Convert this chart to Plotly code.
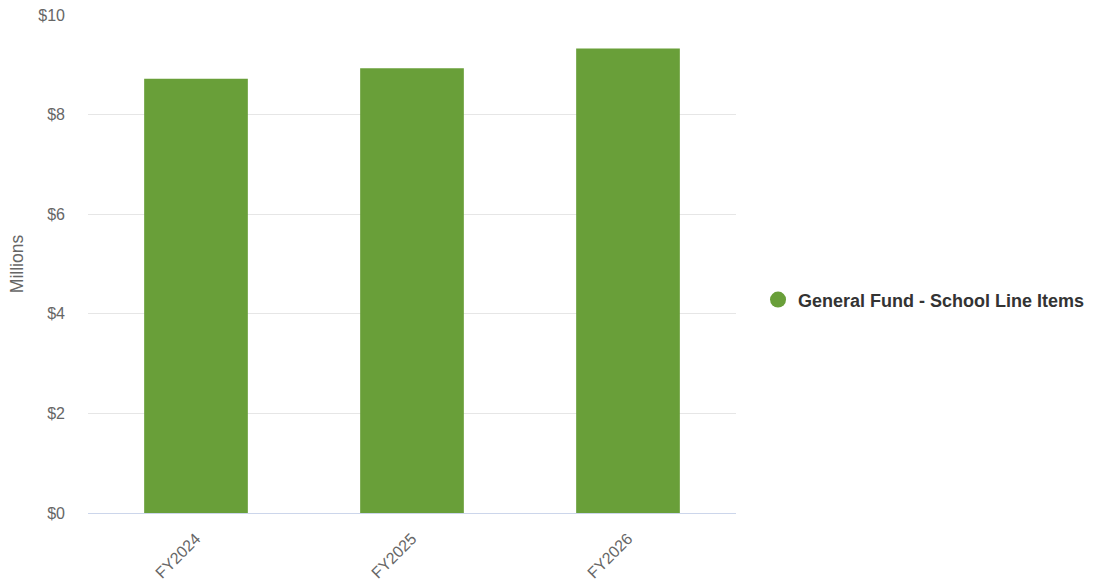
import plotly.graph_objects as go

categories = ["FY2024", "FY2025", "FY2026"]
values = [8.72, 8.93, 9.33]
series_name = "General Fund - School Line Items"
tick_vals = [0, 2, 4, 6, 8, 10]
tick_text = ["$0", "$2", "$4", "$6", "$8", "$10"]

color = "#699f39"
font = "Liberation Sans, Arial, sans-serif"

fig = go.Figure()
fig.add_trace(go.Bar(x=categories, y=values, marker=dict(color=color, line=dict(width=0)),
                     showlegend=False, name=series_name))
fig.add_trace(go.Scatter(x=[None], y=[None], mode="markers", name=series_name,
                         marker=dict(symbol="circle", size=18, color=color)))

fig.update_layout(
    width=1094, height=581,
    margin=dict(l=88, r=358, t=15, b=68, autoexpand=False),
    plot_bgcolor="white", paper_bgcolor="white",
    bargap=0.52,
    font=dict(family=font, color="#666666", size=16),
    legend=dict(x=1.034, y=0.428, xanchor="left", yanchor="middle",
                font=dict(family=font, size=18, color="#333333", weight="bold"),
                itemsizing="trace"),
    xaxis=dict(tickangle=-45, showgrid=False, showline=True, linecolor="#ccd6eb",
               linewidth=1, ticks="", automargin=False, ticklabelstandoff=9,
               tickfont=dict(size=16, color="#666666")),
    yaxis=dict(range=[0, 10.001], tickvals=tick_vals, ticktext=tick_text,
               showgrid=True, gridcolor="#e6e6e6", zeroline=False, automargin=False,
               ticks="", ticklen=0, ticklabelstandoff=22,
               tickfont=dict(size=16, color="#666666"),
               title=dict(text="Millions", font=dict(size=17.5, color="#666666"), standoff=10)),
)

fig.write_html("out.html")
